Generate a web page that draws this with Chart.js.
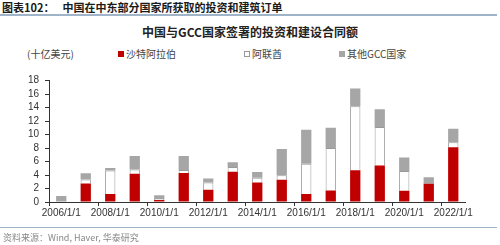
<!DOCTYPE html>
<html>
<head>
<meta charset="utf-8">
<script src="https://cdn.jsdelivr.net/npm/chart.js@4.4.0/dist/chart.umd.min.js"></script>
<style>
  body { margin: 0; background: #fff; font-family: "Liberation Sans", Arial, sans-serif; }
  #wrap { position: relative; width: 500px; height: 245px; overflow: hidden; }
  #myChart { position: absolute; left: 0; top: 0; }
  .head { position: absolute; left: 2px; top: 1px; font-size: 11px; font-weight: bold; color: #1a1a1a;
          font-family: "Noto Sans CJK SC", sans-serif; line-height: 13px; }
  .head .no { margin-right: 8px; }
  .rule { position: absolute; left: 0; width: 497px; height: 2px; background: #9fb4c8; }
  .title { position: absolute; left: 0; width: 500px; top: 23px; text-align: center; font-size: 12px;
           font-weight: bold; color: #222; font-family: "Noto Sans CJK SC", sans-serif; }
  .legend { position: absolute; top: 46px; font-size: 10px; color: #444; font-family: "Noto Sans CJK SC", sans-serif;
            white-space: nowrap; }
  .legend i { display: inline-block; width: 6px; height: 6px; margin-right: 2px; vertical-align: 1px; box-sizing: border-box; }
  .src { position: absolute; left: 3px; top: 231px; font-size: 9px; color: #888; font-family: "Noto Sans CJK SC", sans-serif; }
</style>
</head>
<body>
<div id="wrap">
  <div class="head"><span class="no">图表102：</span>中国在中东部分国家所获取的投资和建筑订单</div>
  <div class="rule" style="top:14px"></div>
  <div class="title">中国与GCC国家签署的投资和建设合同额</div>
  <div class="legend" style="left:27px">(十亿美元)</div>
  <div id="legendBox"></div>
  <canvas id="myChart" width="500" height="245"></canvas>
  <div class="rule" style="top:227px;height:1px"></div>
  <div class="src">资料来源：Wind, Haver, 华泰研究</div>
</div>
<script>
/* data */
const years = ['2006/1/1', '2007/1/1', '2008/1/1', '2009/1/1', '2010/1/1', '2011/1/1', '2012/1/1', '2013/1/1', '2014/1/1',
  '2015/1/1', '2016/1/1', '2017/1/1', '2018/1/1', '2019/1/1', '2020/1/1', '2021/1/1', '2022/1/1'];
const saudi = [0, 2.75, 1.2, 4.2, 0.3, 4.3, 1.8, 4.5, 2.9, 3.3, 1.2, 1.7, 4.7, 5.4, 1.65, 2.7, 8.1];
const uae = [0, 0.6, 3.45, 0.6, 0.15, 0.45, 1.1, 0.7, 0.7, 0.65, 4.45, 6.3, 9.5, 5.7, 2.95, 0, 0.75];
const otherGcc = [0.9, 0.9, 0.4, 2.0, 0.55, 2.05, 0.6, 0.7, 0.85, 3.9, 5.05, 3.0, 2.6, 2.65, 2.0, 0.95, 2.0];
const seriesNames = ['沙特阿拉伯', '阿联酋', '其他GCC国家'];
const yTicks = [0, 2, 4, 6, 8, 10, 12, 14, 16, 18];

const colors = ['#c00000', '#ffffff', '#a6a6a6'];
const borders = ['#c00000', '#9a9a9a', '#a6a6a6'];

/* legend as html text */
const legendLeft = [118, 244, 339];
let legendBox = document.getElementById('legendBox');
seriesNames.forEach((name, i) => {
  let d = document.createElement('div');
  d.className = 'legend';
  d.style.left = legendLeft[i] + 'px';
  d.innerHTML = '<i style="background:' + colors[i] + ';border:1px solid ' + borders[i] + '"></i>' + name;
  legendBox.appendChild(d);
});

let ctx = document.querySelector('#myChart').getContext('2d');
Chart.defaults.font.family = '"Liberation Sans", Arial, sans-serif';
Chart.defaults.font.size = 10;
Chart.defaults.color = '#333';

let myChart = new Chart(ctx, {
  type: 'bar',
  data: {
    labels: years,
    datasets: [saudi, uae, otherGcc].map((d, i) => ({
      label: seriesNames[i],
      data: d,
      backgroundColor: colors[i],
      borderColor: borders[i],
      borderWidth: i === 1 ? 1 : 0,
      barPercentage: 0.42,
      categoryPercentage: 1,
    })),
  },
  options: {
    responsive: false,
    animation: false,
    layout: { padding: { left: 0, right: 34.5, top: 80.5, bottom: 20 } },
    plugins: {
      legend: { display: false },
      title: { display: false },
      tooltip: { enabled: false },
    },
    scales: {
      x: {
        stacked: true,
        offset: true,
        afterFit: (scale) => { scale.height = 23; },
        grid: {
          offset: true,
          drawOnChartArea: false,
          tickLength: 4,
          tickColor: (c) => (c.index % 2 === 0 ? '#333' : 'rgba(0,0,0,0)'),
        },
        border: { color: '#333', width: 1 },
        ticks: {
          autoSkip: false,
          maxRotation: 0,
          padding: 1,
          color: '#333',
          callback: function (v, i) { return i % 2 === 0 ? this.getLabelForValue(v) : ''; },
        },
      },
      y: {
        stacked: true,
        min: 0,
        max: 18,
        afterFit: (scale) => { scale.width = 49; },
        afterBuildTicks: (scale) => { scale.ticks = yTicks.map(v => ({ value: v })); },
        grid: { drawOnChartArea: false, tickLength: 4, tickColor: '#333' },
        border: { color: '#333', width: 1 },
        ticks: { autoSkip: false, padding: 6, color: '#333' },
      },
    },
  },
});
</script>
</body>
</html>
